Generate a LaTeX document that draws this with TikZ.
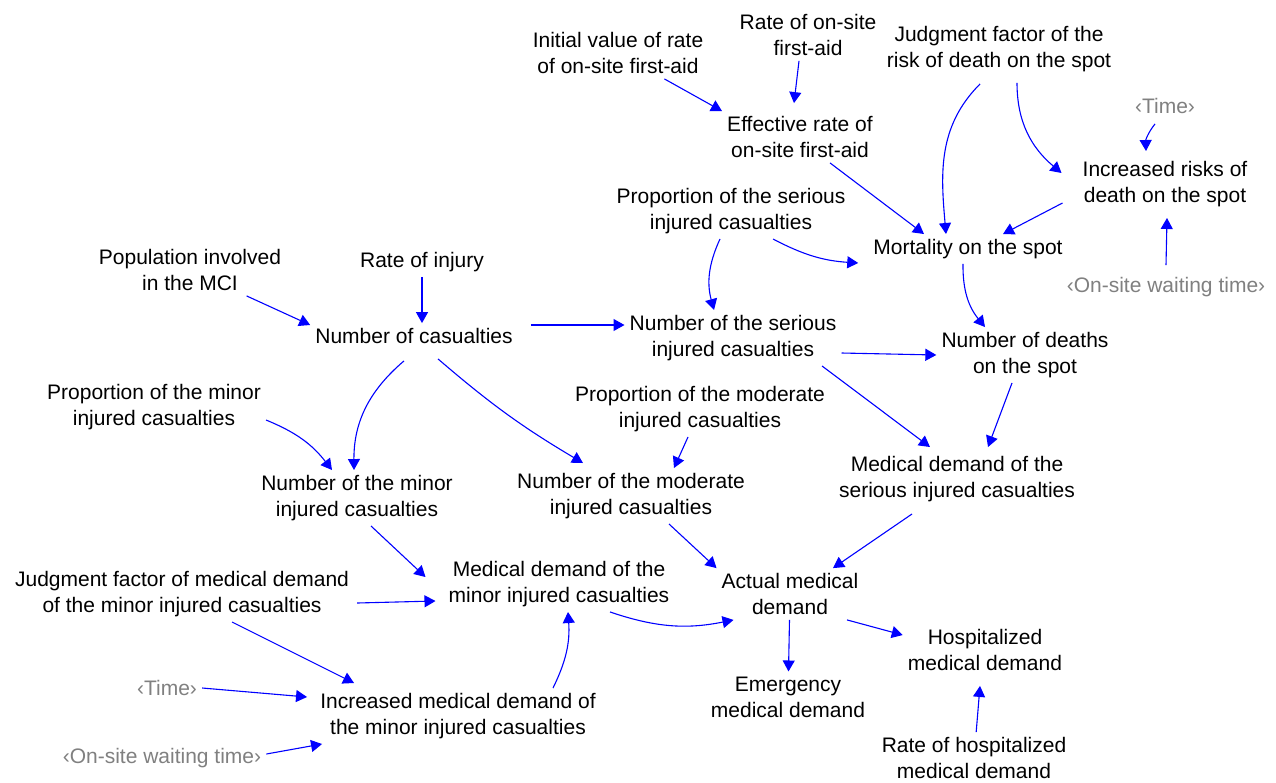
\documentclass[tikz,border=0pt]{standalone}
\usepackage{fontspec}
\setmainfont{Liberation Sans}
\usetikzlibrary{arrows.meta,calc}
\definecolor{shadowgray}{RGB}{128,128,128}
\definecolor{linkblue}{RGB}{0,0,255}
\begin{document}
\begin{tikzpicture}[x=1pt,y=1pt,
  v/.style={align=center,inner sep=5pt,font=\fontsize{21}{26}\selectfont,text=black},
  sh/.style={v,text=shadowgray},
  arr/.style={draw=linkblue,line width=1.1pt,-{Triangle[length=11pt,width=12pt]}}]
\useasboundingbox (0,0) rectangle (1276,-782);
% nodes
\node[v] (init) at (618,-53) {Initial value of rate\\of on-site first-aid};
\node[v] (rate) at (808,-35) {Rate of on-site\\first-aid};
\node[v] (jr) at (999,-49) {Judgment factor of the\\risk of death on the spot};
\node[sh] (time1) at (1165,-106) {‹Time›};
\node[v] (eff) at (800,-137) {Effective rate of\\on-site first-aid};
\node[v] (irisk) at (1165,-184) {Increased risks of\\death on the spot};
\node[v] (pser) at (731,-211) {Proportion of the serious\\injured casualties};
\node[v] (mort) at (968,-249) {Mortality on the spot};
\node[sh] (wait1) at (1166,-287) {‹On-site waiting time›};
\node[v] (pop) at (190,-270) {Population involved\\in the MCI};
\node[v] (rinj) at (422,-262) {Rate of injury};
\node[v] (ncas) at (414,-336) {Number of casualties};
\node[v] (nser) at (733,-338) {Number of the serious\\injured casualties};
\node[v] (ndeath) at (1025,-355) {Number of deaths\\on the spot};
\node[v] (pmin) at (154,-407) {Proportion of the minor\\injured casualties};
\node[v] (pmod) at (700,-409) {Proportion of the moderate\\injured casualties};
\node[v] (mser) at (957,-479) {Medical demand of the\\serious injured casualties};
\node[v] (nmin) at (357,-498) {Number of the minor\\injured casualties};
\node[v] (nmod) at (631,-496) {Number of the moderate\\injured casualties};
\node[v] (mmin) at (559,-584) {Medical demand of the\\minor injured casualties};
\node[v] (act) at (790,-594) {Actual medical\\demand};
\node[v] (jmed) at (182,-594) {Judgment factor of medical demand\\of the minor injured casualties};
\node[v] (hosp) at (985,-650) {Hospitalized\\medical demand};
\node[sh] (time2) at (167,-688) {‹Time›};
\node[v] (emer) at (788,-697) {Emergency\\medical demand};
\node[v] (imed) at (458,-716) {Increased medical demand of\\the minor injured casualties};
\node[sh] (wait2) at (162,-758) {‹On-site waiting time›};
\node[v] (rhosp) at (974,-758) {Rate of hospitalized\\medical demand};
% connectors
\draw[arr] (init) -- (eff.north west);
\draw[arr] ([xshift=-9pt]rate.south) -- ([shift={(-6pt,8pt)}]eff.north);
\draw[arr] ([shift={(-19pt,-7pt)}]jr.south) to[out=225,in=95] ([xshift=-22pt]mort.north);
\draw[arr] ([shift={(18pt,-6pt)}]jr.south) to[out=270,in=140] ([shift={(-16pt,11pt)}]irisk.west);
\draw[arr] ([shift={(-10pt,-5pt)}]time1.south) to[bend right=20] ([shift={(-19pt,5pt)}]irisk.north);
\draw[arr] ([xshift=30pt]eff.south) -- ([xshift=-44pt]mort.north);
\draw[arr] ([shift={(-15pt,9pt)}]irisk.south west) -- ([xshift=35pt]mort.north);
\draw[arr] ([yshift=7pt]wait1.north) -- ([shift={(2pt,-6pt)}]irisk.south);
\draw[arr] ([xshift=42pt]pser.south) to[bend right=12] ([shift={(-10pt,-14pt)}]mort.west);
\draw[arr] ([xshift=-11pt]pser.south) to[bend right=20] ([xshift=-19pt]nser.north);
\draw[arr] ([xshift=-5pt]mort.south) to[bend right=20] ([xshift=-40pt]ndeath.north);
\draw[arr] (pop) -- ([yshift=11pt]ncas.west);
\draw[arr] (rinj) -- (rinj |- ncas.north);
\draw[arr] ([shift={(13pt,11pt)}]ncas.east) -- ([yshift=13pt]nser.west);
\draw[arr] ([shift={(-10pt,-12pt)}]ncas.south) to[bend right=25] ([xshift=-3pt]nmin.north);
\draw[arr] ([shift={(24pt,-10pt)}]ncas.south) to[bend right=5] ([shift={(-48pt,5pt)}]nmod.north);
\draw[arr] ([yshift=-13pt]pmin.east) to[bend left=15] ([xshift=-25pt]nmin.north);
\draw[arr] ([xshift=-12pt]pmod.south) -- ([xshift=43pt]nmod.north);
\draw[arr] ([yshift=-15pt]nser.east) -- (ndeath.west);
\draw[arr] ([xshift=89pt]nser.south) -- ([shift={(-27pt,4pt)}]mser.north);
\draw[arr] ([xshift=-13pt]ndeath.south) -- ([shift={(31pt,4pt)}]mser.north);
\draw[arr] ([xshift=14pt]nmin.south) -- ([shift={(-18pt,7pt)}]mmin.west);
\draw[arr] ([xshift=38pt]nmod.south) -- (act.north west);
\draw[arr] ([shift={(-45pt,-7pt)}]mser.south) -- ([xshift=43pt]act.north);
\draw[arr] ([shift={(3pt,-9pt)}]jmed.east) -- ([shift={(-8pt,-17pt)}]mmin.west);
\draw[arr] ([xshift=50pt]jmed.south) -- ([shift={(39pt,5pt)}]imed.north west);
\draw[arr] ([xshift=51pt]mmin.south) to[bend right=15] ([xshift=17pt]act.south west);
\draw[arr] ([xshift=95pt]imed.north) to[bend right=15] ([xshift=9pt]mmin.south);
\draw[arr] (time2.east) -- ([shift={(-8pt,19pt)}]imed.west);
\draw[arr] ([yshift=4pt]wait2.east) -- ([xshift=7pt]imed.south west);
\draw[arr] (act) -- (emer);
\draw[arr] ([xshift=57pt]act.south) -- ([yshift=15pt]hosp.west);
\draw[arr] (rhosp) -- ([shift={(-5pt,-10pt)}]hosp.south);
\end{tikzpicture}
\end{document}
